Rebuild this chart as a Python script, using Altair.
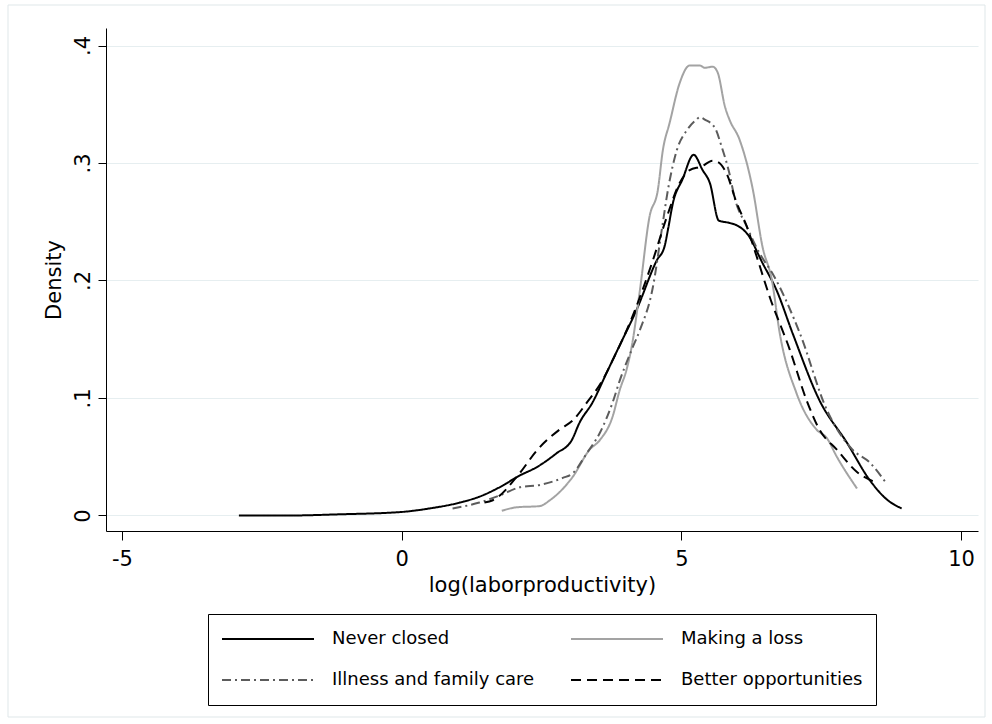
import altair as alt
import pandas as pd

series_names = ["Never closed", "Making a loss", "Illness and family care", "Better opportunities"]

never_x = [-2.91, -2.0, -1.11, 0.0, 0.50, 1.04, 1.39, 1.75, 2.11, 2.41, 2.77, 3.04, 3.18, 3.41, 3.67,
           3.90, 4.20, 4.56, 4.70, 4.76, 4.85, 5.02, 5.22, 5.38, 5.51, 5.67, 5.86, 5.99, 6.19, 6.45,
           6.70, 6.99, 7.47, 7.96, 8.37, 8.69, 8.94]
never_y = [0.000, 0.000, 0.001, 0.003, 0.006, 0.011, 0.016, 0.024, 0.034, 0.041, 0.053, 0.064, 0.079, 0.096, 0.122,
           0.145, 0.175, 0.217, 0.229, 0.243, 0.266, 0.286, 0.307, 0.294, 0.283, 0.251, 0.249, 0.247, 0.239, 0.215,
           0.192, 0.155, 0.098, 0.062, 0.030, 0.013, 0.006]

loss_x = [1.79, 2.06, 2.47, 2.65, 3.06, 3.36, 3.54, 3.77, 3.90, 4.02, 4.11, 4.26, 4.43, 4.58, 4.67, 4.79,
          4.97, 5.15, 5.33, 5.42, 5.56, 5.65, 5.78, 5.86, 6.04, 6.28, 6.45, 6.62, 6.76, 7.06, 7.42, 7.60,
          7.78, 8.14]
loss_y = [0.004, 0.007, 0.008, 0.013, 0.033, 0.056, 0.064, 0.084, 0.107, 0.124, 0.143, 0.192, 0.254, 0.277, 0.311, 0.334,
          0.368, 0.383, 0.383, 0.381, 0.382, 0.377, 0.348, 0.337, 0.320, 0.277, 0.229, 0.200, 0.155, 0.104, 0.073, 0.066,
          0.050, 0.023]

illness_x = [0.91, 1.39, 1.75, 2.11, 2.47, 2.88, 3.06, 3.31, 3.54, 3.77, 3.90, 4.13, 4.26, 4.49, 4.65, 4.76,
             4.92, 5.10, 5.27, 5.33, 5.42, 5.60, 5.72, 5.86, 5.95, 6.17, 6.40, 6.63, 7.12, 7.60, 8.06, 8.37, 8.64]
illness_y = [0.006, 0.011, 0.017, 0.024, 0.026, 0.032, 0.036, 0.053, 0.070, 0.096, 0.115, 0.143, 0.158, 0.194, 0.243, 0.277,
             0.311, 0.328, 0.337, 0.339, 0.337, 0.330, 0.314, 0.291, 0.271, 0.246, 0.223, 0.206, 0.155, 0.090, 0.056, 0.045, 0.029]

better_x = [1.48, 1.63, 2.11, 2.41, 2.82, 3.06, 3.31, 3.59, 3.77, 4.08, 4.49, 4.74, 4.97, 5.15, 5.36, 5.56,
            5.65, 5.81, 5.99, 6.17, 6.35, 6.58, 6.94, 7.24, 7.47, 7.78, 8.14, 8.49]
better_y = [0.011, 0.013, 0.036, 0.055, 0.073, 0.081, 0.096, 0.115, 0.132, 0.164, 0.217, 0.254, 0.283, 0.294, 0.297, 0.302,
            0.301, 0.291, 0.266, 0.246, 0.220, 0.186, 0.141, 0.098, 0.073, 0.056, 0.037, 0.028]

x_ticks = [-5, 0, 5, 10]
y_ticks = [0, 0.1, 0.2, 0.3, 0.4]

rows = []
for name, xs, ys in zip(series_names, [never_x, loss_x, illness_x, better_x], [never_y, loss_y, illness_y, better_y]):
    for i, (a, b) in enumerate(zip(xs, ys)):
        rows.append({"series": name, "x": a, "y": b, "order": i})
df = pd.DataFrame(rows)

FONT = "DejaVu Sans"

legend = alt.Legend(
    title=None, orient="none", legendX=102, legendY=586, columns=2, direction="horizontal",
    symbolType="stroke", symbolSize=8464, symbolStrokeWidth=2, clipHeight=24,
    labelFont=FONT, labelFontSize=18, labelColor="black", labelOffset=17, labelLimit=0,
    columnPadding=35, rowPadding=17, padding=13,
    strokeColor="black", fillColor="white", cornerRadius=0,
)

color_scale = alt.Scale(domain=series_names, range=["#000000", "#a3a3a3", "#5c5c5c", "#000000"])
dash_scale = alt.Scale(domain=series_names, range=[[1, 0], [1, 0], [9, 4, 2, 4], [10, 6]])

lines = alt.Chart(df).mark_line(strokeWidth=2, interpolate="monotone").encode(
    x=alt.X("x:Q", scale=alt.Scale(domain=[-5.286, 10.304], nice=False, zero=False),
            axis=alt.Axis(values=x_ticks, title="log(laborproductivity)", grid=False,
                          labelExpr="'' + datum.value", tickSize=9, labelPadding=8, titlePadding=5)),
    y=alt.Y("y:Q", scale=alt.Scale(domain=[-0.0132, 0.4149], nice=False, zero=False),
            axis=alt.Axis(values=y_ticks, title="Density", grid=True,
                          labelExpr="datum.value == 0 ? '0' : replace(format(datum.value, '.1f'), '0.', '.')",
                          labelAngle=270, labelAlign="center", labelBaseline="alphabetic",
                          tickSize=8, labelPadding=9, titlePadding=8)),
    color=alt.Color("series:N", scale=color_scale, legend=legend),
    strokeDash=alt.StrokeDash("series:N", scale=dash_scale, legend=legend),
    order="order:Q",
)

frame = alt.Chart(pd.DataFrame({"a": [0]})).mark_rect(fill="transparent", stroke="#dfe7e9", strokeWidth=1).encode(
    x=alt.value(-98), x2=alt.value(879), y=alt.value(-23), y2=alt.value(689)
)

chart = alt.layer(frame, lines).properties(
    width=872, height=503,
    padding={"left": 106, "top": 28, "right": 14, "bottom": 193},
    autosize=alt.AutoSizeParams(type="none"),
    background="white",
).configure_view(stroke=None).configure_axis(
    domainColor="black", domainWidth=1, tickColor="black", tickWidth=1,
    labelFont=FONT, labelFontSize=21, labelColor="black",
    titleFont=FONT, titleFontSize=21, titleFontWeight="normal", titleColor="black",
    gridColor="#e6eef0", gridWidth=1.2,
)

chart.save("out.html", embed_options={"renderer": "svg", "actions": False})
